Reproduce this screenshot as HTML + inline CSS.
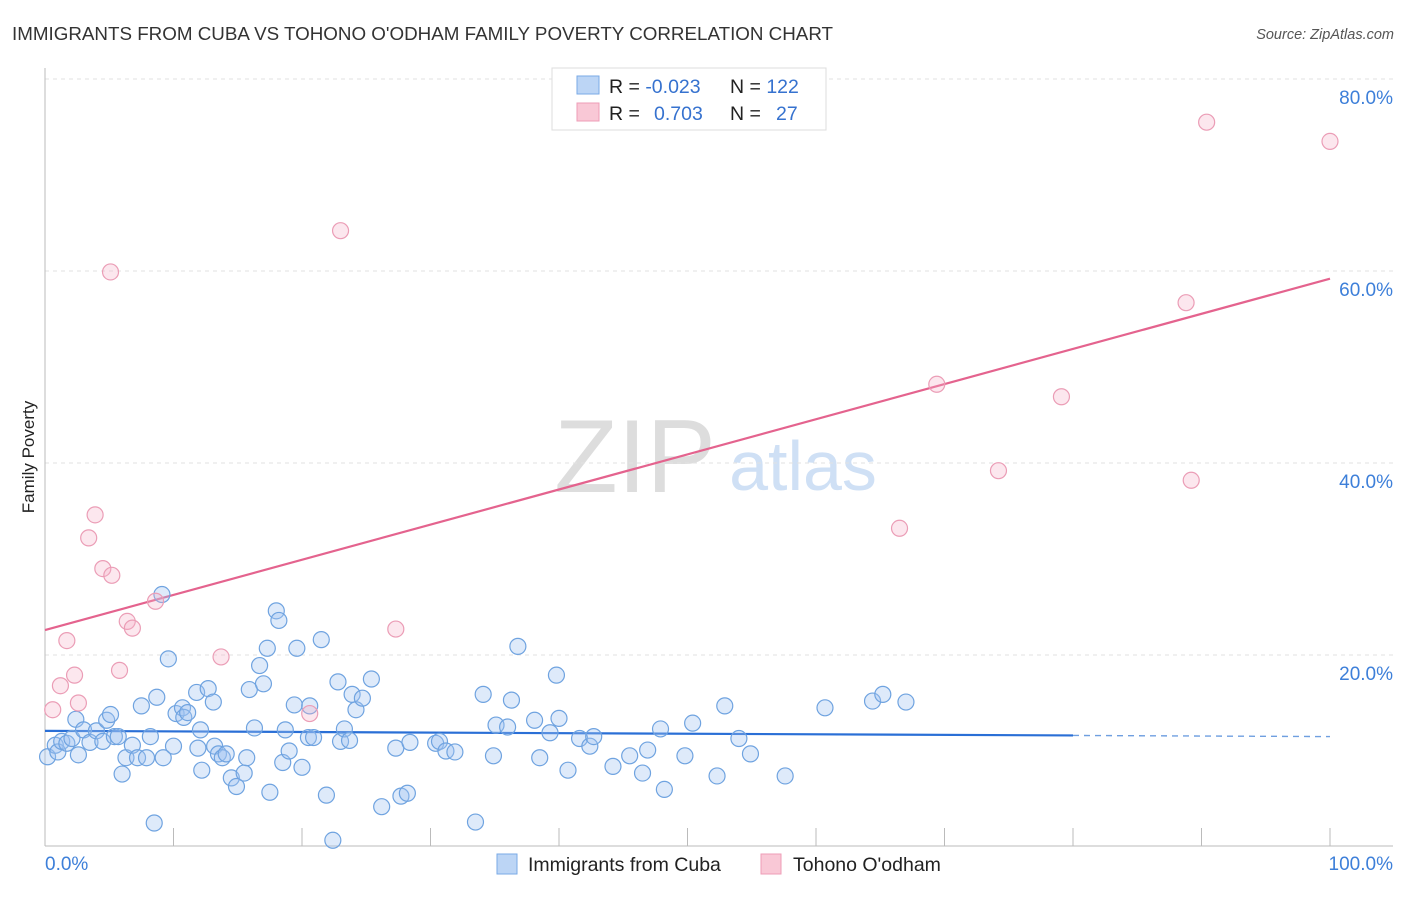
<!DOCTYPE html>
<html><head><meta charset="utf-8"><style>
body{margin:0;background:#fff;font-family:"Liberation Sans",sans-serif;}
svg text{font-family:"Liberation Sans",sans-serif;}
</style></head><body>
<svg id="chart" width="1406" height="892">
<text x="12" y="40" font-size="18.8" fill="#333">IMMIGRANTS FROM CUBA VS TOHONO O'ODHAM FAMILY POVERTY CORRELATION CHART</text>
<text x="1394" y="39" font-size="14.5" fill="#555" font-style="italic" text-anchor="end">Source: ZipAtlas.com</text>
<text x="635" y="492" font-size="104" fill="#ddd" font-family="Liberation Serif" text-anchor="middle">ZIP</text>
<text x="803" y="490" font-size="70" fill="#cfe0f5" text-anchor="middle">atlas</text>
<text transform="translate(34,457) rotate(-90)" font-size="17" fill="#222" text-anchor="middle">Family Poverty</text>
<g id="grid"></g><g id="axes"></g><g id="lines"></g><g id="pts"></g>
<g>
<rect x="552" y="68" width="274" height="62" fill="#fff" stroke="#ddd"/>
<rect x="577" y="76" width="22" height="18" fill="#bcd5f5" stroke="#7aaae6"/>
<rect x="577" y="103" width="22" height="18" fill="#f9c8d6" stroke="#ee9db7"/>
<text x="609" y="93" font-size="19.5" fill="#222">R = <tspan fill="#3672cf">-0.023</tspan><tspan x="730">N = </tspan><tspan fill="#3672cf">122</tspan></text>
<text x="609" y="120" font-size="19.5" fill="#222">R = <tspan x="654" fill="#3672cf">0.703</tspan><tspan x="730">N = </tspan><tspan x="776" fill="#3672cf">27</tspan></text>
</g>
<g>
<rect x="497" y="854" width="20" height="20" fill="#bcd5f5" stroke="#7aaae6"/>
<text x="528" y="871" font-size="19.5" fill="#222">Immigrants from Cuba</text>
<rect x="761" y="854" width="20" height="20" fill="#f9c8d6" stroke="#ee9db7"/>
<text x="793" y="871" font-size="19.5" fill="#222">Tohono O'odham</text>
</g>
</svg>
<script>
const yTicks=[20,40,60,80];
const xTickLabels=["0.0%","100.0%"];
const cubaX=[0.2,0.8,1.0,1.3,1.7,2.1,2.6,2.4,3.0,3.5,4.0,4.5,4.8,5.1,5.4,5.7,6.0,6.3,6.8,7.2,7.5,7.9,8.2,8.5,8.7,9.2,9.6,10.0,10.2,10.7,10.8,11.1,11.8,11.9,12.1,12.2,12.7,13.1,13.2,13.5,13.8,14.1,14.5,14.9,15.5,15.7,15.9,16.3,16.7,17.0,17.3,17.5,18.0,18.2,18.5,18.7,19.0,19.6,19.4,20.0,20.5,20.6,20.9,21.5,21.9,22.4,22.8,23.0,23.3,23.7,23.9,24.2,24.7,25.4,26.2,27.3,27.7,28.2,28.4,30.4,30.7,31.2,31.9,33.5,34.1,34.9,35.1,36.0,36.3,36.8,38.1,38.5,39.3,39.8,40.0,40.7,41.6,42.4,42.7,44.2,45.5,46.5,46.9,47.9,48.2,49.8,50.4,52.3,52.9,54.0,54.9,57.6,60.7,64.4,65.2,67.0,9.1];
const cubaY=[9.4,10.6,9.9,11.0,10.8,11.3,9.6,13.3,12.2,10.9,12.1,11.0,13.2,13.8,11.5,11.5,7.6,9.3,10.6,9.3,14.7,9.3,11.5,2.5,15.6,9.3,19.6,10.5,13.9,14.5,13.5,14.0,16.1,10.3,12.2,8.0,16.5,15.1,10.5,9.7,9.3,9.7,7.2,6.3,7.7,9.3,16.4,12.4,18.9,17.0,20.7,5.7,24.6,23.6,8.8,12.2,10.0,20.7,14.8,8.3,11.4,14.7,11.4,21.6,5.4,0.7,17.2,11.0,12.3,11.1,15.9,14.3,15.5,17.5,4.2,10.3,5.3,5.6,10.9,10.8,11.0,10.0,9.9,2.6,15.9,9.5,12.7,12.5,15.3,20.9,13.2,9.3,11.9,17.9,13.4,8.0,11.3,10.5,11.5,8.4,9.5,7.7,10.1,12.3,6.0,9.5,12.9,7.4,14.7,11.3,9.7,7.4,14.5,15.2,15.9,15.1,26.3];
const tohonoX=[0.6,1.2,1.7,2.3,2.6,3.4,3.9,4.5,5.2,5.1,5.8,6.4,6.8,8.6,13.7,20.6,23.0,27.3,66.5,69.4,74.2,79.1,88.8,89.2,90.4,100];
const tohonoY=[14.3,16.8,21.5,17.9,15.0,32.2,34.6,29.0,28.3,59.9,18.4,23.5,22.8,25.6,19.8,13.9,64.2,22.7,33.2,48.2,39.2,46.9,56.7,38.2,75.5,73.5];
const cubaTrend=[12.1,11.5];
const tohonoTrend=[22.6,59.2];
const NS="http://www.w3.org/2000/svg";
const X=v=>45+v*12.85, Y=v=>847-v*9.6;
function mk(p,t,a){const e=document.createElementNS(NS,t);for(const k in a)e.setAttribute(k,a[k]);p.appendChild(e);return e;}
const grid=document.getElementById('grid'),axes=document.getElementById('axes'),lines=document.getElementById('lines'),pts=document.getElementById('pts');
yTicks.forEach(t=>{
 const l=mk(grid,'line',{x1:45,x2:1393,y1:Y(t),y2:Y(t),stroke:'#e2e2e2','stroke-dasharray':'4,4'});
 
 
 const tx=mk(grid,'text',{x:1393,y:Y(t)+25,'font-size':19,fill:'#3d7fd9','text-anchor':'end'});
 tx.textContent=t.toFixed(1)+'%';
 
 
});
mk(axes,'line',{x1:45,x2:45,y1:68,y2:846,stroke:'#bbb'});
const xa=mk(axes,'line',{x1:45,x2:1393,y1:846,y2:846,stroke:'#bbb'});


for(let i=1;i<=10;i++){mk(axes,'line',{x1:X(i*10),x2:X(i*10),y1:828,y2:846,stroke:'#bbb'});}
[[0,xTickLabels[0],'start',45],[100,xTickLabels[1],'end',1393]].forEach(d=>{
 const t=mk(axes,'text',{x:d[3],y:870,'font-size':19,fill:'#3d7fd9','text-anchor':d[2]});
 t.textContent=d[1];
 
 
});
function dots(xs,ys,fill,stroke,name){xs.forEach((x,i)=>{
 const c=mk(pts,'circle',{cx:X(x),cy:Y(ys[i]),r:8,fill:fill,stroke:stroke,'stroke-width':1.2});
 
 
});}
dots(cubaX,cubaY,'rgba(160,196,240,0.35)','#6fa3e0','cuba-point');
dots(tohonoX,tohonoY,'rgba(245,175,198,0.3)','#eb9db6','tohono-point');
const b1=mk(lines,'line',{x1:X(0),y1:Y(cubaTrend[0]),x2:X(80),y2:Y(cubaTrend[0]+(cubaTrend[1]-cubaTrend[0])*0.8),stroke:'#2a6fd6','stroke-width':2.2});


const b2=mk(lines,'line',{x1:X(80),y1:Y(cubaTrend[0]+(cubaTrend[1]-cubaTrend[0])*0.8),x2:X(100),y2:Y(cubaTrend[1]),stroke:'#6f9fe0','stroke-width':1.4,'stroke-dasharray':'6,5'});


const p1=mk(lines,'line',{x1:X(0),y1:Y(tohonoTrend[0]),x2:X(100),y2:Y(tohonoTrend[1]),stroke:'#e4638e','stroke-width':2.2});


</script>
</body></html>
